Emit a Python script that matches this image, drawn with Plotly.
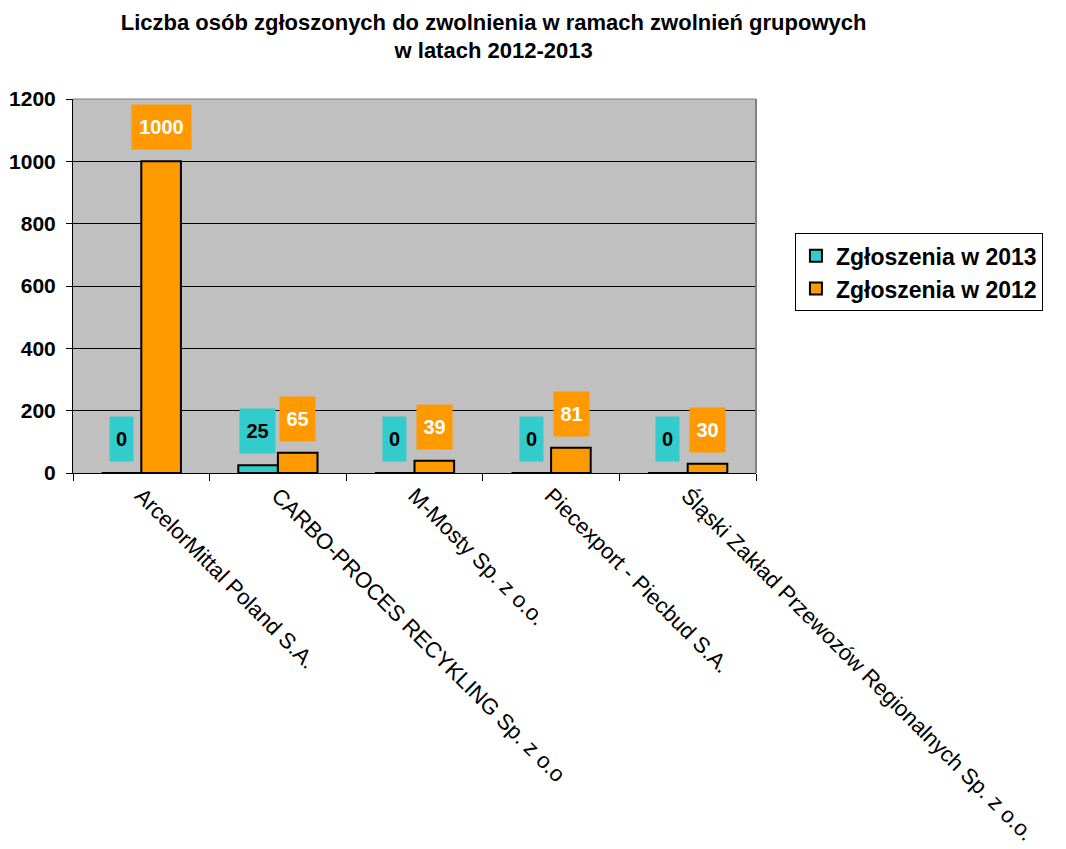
import plotly.graph_objects as go

categories = [
    "ArcelorMittal Poland S.A.",
    "CARBO-PROCES RECYKLING Sp. z o.o",
    "M-Mosty Sp. z o.o.",
    "Piecexport - Piecbud S.A.",
    "Śląski Zakład Przewozów Regionalnych Sp. z o.o.",
]
series_2013 = [0, 25, 0, 0, 0]
series_2012 = [1000, 65, 39, 81, 30]
name_2013 = "Zgłoszenia w 2013"
name_2012 = "Zgłoszenia w 2012"
y_ticks = [0, 200, 400, 600, 800, 1000, 1200]

TEAL = "#33CCCC"
ORANGE = "#FF9900"
FONT = "Liberation Sans, Arial, sans-serif"

fig = go.Figure()
fig.add_trace(go.Bar(x=categories, y=series_2013, name=name_2013,
                     marker=dict(color=TEAL, line=dict(color="black", width=2))))
fig.add_trace(go.Bar(x=categories, y=series_2012, name=name_2012,
                     marker=dict(color=ORANGE, line=dict(color="black", width=2))))

annotations = []
for cat, v in zip(categories, series_2013):
    annotations.append(dict(x=cat, y=v, xref="x", yref="y", text=str(v),
                            showarrow=False, xshift=-20, yshift=34,
                            bgcolor=TEAL, width=len(str(v)) * 12 + 9, height=42,
                            font=dict(family=FONT, size=20, color="black", weight="bold")))
for cat, v in zip(categories, series_2012):
    annotations.append(dict(x=cat, y=v, xref="x", yref="y", text=str(v),
                            showarrow=False, xshift=20, yshift=34,
                            bgcolor=ORANGE, width=len(str(v)) * 12 + 9, height=42,
                            font=dict(family=FONT, size=20, color="white", weight="bold")))

fig.update_layout(
    width=1058, height=841,
    margin=dict(l=65, r=310, t=91, b=376, autoexpand=False),
    paper_bgcolor="white",
    plot_bgcolor="#C0C0C0",
    barmode="group", bargap=0.42, bargroupgap=0,
    title=dict(text="Liczba osób zgłoszonych do zwolnienia w ramach zwolnień grupowych<br>w latach 2012-2013",
               x=0.459, xanchor="center", y=0.974, yanchor="top",
               font=dict(family=FONT, size=22, color="black", weight="bold")),
    font=dict(family=FONT, color="black"),
    legend=dict(x=1.057, xanchor="left", y=0.641, yanchor="top",
                bordercolor="black", borderwidth=1, bgcolor="white",
                font=dict(family=FONT, size=23, color="black", weight="bold"),
                tracegroupgap=0, itemwidth=30),
    annotations=annotations,
    showlegend=True,
)
fig.update_xaxes(tickangle=45, tickfont=dict(family=FONT, size=22, color="black"),
                 showline=True, linecolor="black", linewidth=1, automargin=False,
                 ticks="outside", ticklen=7, tickcolor="black",
                 tickson="boundaries", mirror=False, showgrid=False)
fig.update_yaxes(range=[0, 1200], tickvals=y_ticks, automargin=False,
                 tickfont=dict(family=FONT, size=21, color="black", weight="bold"),
                 showline=True, linecolor="black", linewidth=1,
                 ticks="outside", ticklen=6, tickcolor="black", ticklabelstandoff=6,
                 showgrid=True, gridcolor="black", gridwidth=1, zeroline=False)
fig.add_shape(type="line", xref="paper", yref="paper", x0=1, x1=1, y0=0, y1=1,
              line=dict(color="#808080", width=2))
fig.add_shape(type="line", xref="paper", yref="paper", x0=0, x1=1, y0=1, y1=1,
              line=dict(color="#808080", width=1))

fig.write_html("out.html")
